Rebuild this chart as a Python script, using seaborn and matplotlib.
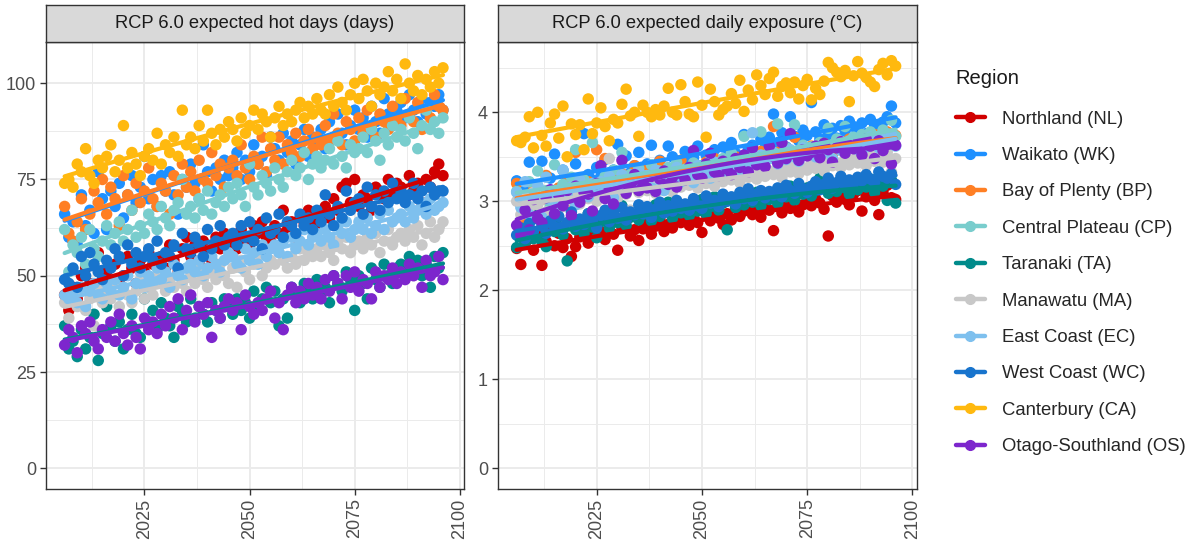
import numpy as np
import pandas as pd
import matplotlib
matplotlib.use("Agg")
import matplotlib.pyplot as plt
from matplotlib.lines import Line2D
import seaborn as sns

years = list(range(2006, 2097))

regions = ["Northland (NL)", "Waikato (WK)", "Bay of Plenty (BP)", "Central Plateau (CP)",
           "Taranaki (TA)", "Manawatu (MA)", "East Coast (EC)", "West Coast (WC)",
           "Canterbury (CA)", "Otago-Southland (OS)"]
colors = ["#D10000", "#1E90FF", "#FF7F24", "#79CDCD", "#008B8B",
          "#C8C8C8", "#7EC0EE", "#1874CD", "#FFB90F", "#7D26CD"]

# expected hot days per year (days), 2006-2096
hot_nl = [45, 41, 47, 44, 50, 52, 48, 46, 56, 49, 51, 47, 53, 49, 50, 55, 52, 48, 54, 51,
          56, 53, 50, 55, 52, 58, 54, 51, 57, 60, 55, 58, 53, 59, 56, 54, 60, 57, 61, 58,
          60, 57, 62, 59, 58, 63, 61, 64, 60, 59, 63, 61, 67, 62, 64, 60, 65, 63, 67, 64,
          66, 63, 68, 65, 70, 67, 73, 74, 69, 75, 68, 71, 70, 67, 73, 72, 70, 75, 71, 74,
          73, 70, 76, 72, 74, 69, 75, 73, 77, 79, 76]
hot_wk = [66, 60, 64, 58, 71, 63, 67, 61, 77, 70, 62, 72, 68, 74, 65, 71, 76, 69, 73, 81,
          70, 75, 68, 76, 72, 77, 71, 66, 75, 73, 79, 74, 70, 84, 77, 72, 78, 75, 80, 76,
          78, 82, 75, 80, 77, 84, 79, 81, 76, 86, 83, 80, 87, 82, 85, 79, 84, 88, 81, 86,
          85, 88, 83, 90, 86, 92, 87, 84, 89, 93, 88, 91, 86, 94, 90, 87, 96, 92, 89, 93,
          95, 91, 97, 93, 90, 96, 92, 95, 94, 97, 93]
hot_bp = [68, 61, 59, 64, 70, 62, 66, 72, 69, 75, 66, 73, 70, 63, 76, 71, 67, 74, 69, 72,
          78, 70, 68, 74, 72, 66, 76, 71, 79, 73, 77, 72, 80, 75, 74, 82, 76, 79, 73, 78,
          80, 76, 84, 78, 75, 81, 79, 86, 77, 83, 80, 86, 79, 84, 82, 87, 81, 85, 88, 83,
          86, 84, 89, 85, 92, 87, 84, 90, 88, 85, 91, 87, 93, 89, 86, 92, 90, 88, 94, 91,
          89, 96, 92, 90, 95, 88, 93, 91, 97, 94, 93]
hot_cp = [62, 51, 58, 56, 60, 53, 62, 57, 55, 59, 63, 58, 61, 64, 59, 62, 67, 60, 63, 61,
          66, 64, 62, 68, 65, 63, 67, 69, 75, 66, 68, 65, 70, 67, 72, 66, 69, 71, 68, 73,
          70, 74, 71, 68, 79, 73, 71, 76, 74, 72, 78, 75, 73, 77, 80, 76, 78, 82, 75, 79,
          81, 78, 80, 83, 79, 85, 81, 78, 84, 82, 83, 86, 82, 88, 85, 80, 87, 84, 89, 86,
          88, 85, 91, 87, 83, 89, 93, 88, 90, 87, 91]
hot_ta = [37, 31, 33, 29, 36, 31, 34, 40, 28, 35, 42, 37, 33, 38, 31, 36, 40, 35, 34, 44,
          38, 41, 36, 43, 39, 37, 34, 42, 40, 38, 44, 39, 42, 40, 38, 43, 41, 39, 44, 42,
          40, 44, 41, 43, 39, 46, 42, 44, 47, 43, 46, 37, 44, 39, 47, 45, 43, 48, 46, 44,
          49, 45, 47, 43, 50, 48, 46, 51, 49, 41, 50, 48, 44, 52, 49, 47, 53, 50, 48, 52,
          53, 51, 55, 52, 54, 50, 53, 47, 55, 52, 56]
hot_ma = [43, 39, 45, 42, 46, 41, 44, 37, 47, 43, 46, 44, 48, 42, 47, 45, 43, 46, 49, 44,
          47, 45, 50, 48, 46, 49, 47, 51, 48, 46, 50, 48, 52, 49, 47, 51, 49, 53, 50, 48,
          52, 47, 54, 51, 49, 53, 55, 50, 52, 54, 53, 56, 54, 52, 55, 53, 57, 54, 56, 55,
          57, 55, 58, 56, 54, 59, 57, 60, 56, 58, 59, 57, 60, 58, 61, 56, 59, 62, 58, 60,
          61, 59, 62, 60, 63, 58, 61, 64, 60, 62, 64]
hot_ec = [45, 44, 46, 43, 47, 42, 46, 48, 45, 44, 48, 46, 49, 45, 47, 50, 44, 48, 51, 47,
          50, 48, 52, 49, 51, 47, 53, 50, 49, 52, 53, 51, 54, 50, 52, 55, 53, 51, 54, 56,
          55, 53, 52, 57, 54, 56, 53, 58, 55, 57, 58, 56, 59, 55, 60, 57, 59, 62, 58, 60,
          61, 59, 62, 60, 58, 63, 61, 64, 60, 62, 64, 62, 65, 61, 63, 66, 62, 67, 64, 65,
          66, 64, 68, 65, 67, 69, 66, 70, 67, 68, 69]
hot_wc = [49, 48, 52, 47, 55, 50, 56, 53, 51, 49, 54, 52, 57, 55, 50, 58, 53, 56, 52, 55,
          57, 54, 59, 53, 56, 55, 58, 52, 61, 57, 56, 60, 58, 55, 62, 57, 59, 63, 58, 60,
          61, 58, 63, 60, 64, 59, 62, 57, 65, 61, 62, 66, 60, 64, 63, 61, 66, 63, 65, 62,
          67, 64, 71, 66, 63, 68, 65, 72, 67, 69, 70, 66, 73, 68, 71, 67, 72, 69, 74, 70,
          72, 69, 71, 74, 70, 72, 68, 73, 71, 72, 72]
hot_ca = [74, 75, 73, 79, 77, 83, 76, 74, 80, 78, 81, 84, 77, 80, 89, 78, 82, 79, 76, 81,
          83, 80, 87, 79, 84, 82, 86, 81, 93, 84, 86, 83, 89, 85, 93, 87, 84, 88, 86, 90,
          88, 85, 91, 87, 89, 93, 88, 92, 90, 86, 91, 94, 89, 92, 90, 93, 95, 91, 94, 92,
          96, 93, 92, 97, 94, 99, 95, 93, 97, 100, 96, 101, 98, 94, 100, 97, 99, 103, 98, 101,
          96, 105, 100, 98, 102, 97, 101, 99, 103, 100, 104]
hot_os = [32, 36, 34, 30, 37, 35, 38, 33, 31, 36, 34, 38, 33, 40, 35, 32, 37, 34, 31, 39,
          36, 38, 35, 40, 37, 42, 39, 44, 36, 41, 45, 38, 42, 40, 43, 34, 41, 39, 42, 44,
          41, 43, 36, 45, 42, 40, 43, 41, 44, 46, 39, 43, 36, 45, 47, 43, 46, 44, 48, 45,
          47, 44, 49, 46, 50, 48, 44, 50, 47, 51, 46, 49, 48, 44, 51, 47, 50, 49, 52, 48,
          51, 49, 53, 50, 52, 47, 54, 50, 51, 55, 49]

# expected daily exposure (deg C), 2006-2096
exp_nl = [2.47, 2.29, 2.53, 2.58, 2.45, 2.62, 2.28, 2.55, 2.70, 2.50, 2.64, 2.48, 2.58, 2.38, 2.49, 2.60, 2.68, 2.53, 2.62, 2.71,
          2.66, 2.57, 2.74, 2.63, 2.45, 2.70, 2.78, 2.61, 2.68, 2.56, 2.69, 2.76, 2.63, 2.72, 2.80, 2.66, 2.74, 2.70, 2.84, 2.76,
          2.79, 2.73, 2.82, 2.76, 2.65, 2.85, 2.78, 2.88, 2.81, 2.74, 2.86, 2.79, 2.92, 2.83, 2.89, 2.95, 2.85, 2.91, 2.82, 2.97,
          2.90, 2.67, 2.94, 2.87, 2.99, 2.92, 3.02, 2.88, 2.96, 3.05, 2.95, 3.03, 2.98, 2.91, 2.61, 3.06, 2.99, 3.09, 3.02, 2.96,
          3.08, 3.12, 2.89, 3.05, 3.15, 3.01, 2.85, 3.10, 3.18, 3.04, 3.02]
exp_wk = [3.23, 3.05, 3.12, 3.44, 3.09, 3.17, 3.45, 3.08, 3.26, 3.53, 3.14, 3.35, 3.22, 3.06, 3.42, 3.19, 3.76, 3.30, 3.24, 3.38,
          3.28, 3.47, 3.21, 3.35, 3.64, 3.26, 3.51, 3.32, 3.40, 3.55, 3.29, 3.42, 3.63, 3.36, 3.46, 3.33, 3.62, 3.50, 3.41, 3.38,
          3.56, 3.44, 3.49, 3.62, 3.40, 3.52, 3.47, 3.58, 3.45, 3.61, 3.50, 3.66, 3.54, 3.49, 3.75, 3.58, 3.63, 3.52, 3.70, 3.60,
          3.72, 3.98, 3.66, 3.77, 3.61, 3.95, 3.73, 3.68, 3.80, 3.74, 4.11, 3.78, 3.70, 3.86, 3.75, 3.82, 3.71, 3.85, 3.79, 3.90,
          3.84, 3.81, 3.88, 3.76, 3.92, 3.86, 3.80, 3.89, 3.95, 4.07, 3.88]
exp_bp = [3.20, 2.76, 3.05, 2.98, 3.12, 2.87, 3.02, 3.29, 3.10, 2.95, 3.15, 3.05, 3.26, 3.00, 3.55, 3.18, 3.08, 3.22, 3.13, 3.58,
          3.20, 3.48, 3.15, 3.25, 3.10, 3.31, 3.22, 3.18, 3.40, 3.28, 3.24, 3.36, 3.19, 3.33, 3.45, 3.27, 3.30, 3.22, 3.38, 3.46,
          3.31, 3.28, 3.42, 3.36, 3.25, 3.44, 3.39, 3.48, 3.33, 3.41, 3.45, 3.38, 3.50, 3.35, 3.47, 3.42, 3.52, 3.40, 3.56, 3.46,
          3.49, 3.84, 3.55, 3.44, 3.60, 3.51, 3.72, 3.48, 3.58, 3.54, 3.62, 3.56, 3.50, 3.65, 3.59, 3.53, 3.68, 3.61, 3.57, 3.70,
          3.64, 3.58, 3.73, 3.66, 3.61, 3.75, 3.69, 3.63, 3.78, 3.71, 3.74]
exp_cp = [3.11, 2.98, 3.06, 3.22, 2.90, 3.34, 3.04, 3.12, 2.95, 3.41, 3.08, 3.19, 3.02, 3.27, 3.58, 3.14, 3.24, 3.10, 3.66, 3.20,
          3.16, 3.28, 3.12, 3.35, 3.21, 3.55, 3.18, 3.30, 3.24, 3.37, 3.29, 3.20, 3.41, 3.26, 3.34, 3.23, 3.38, 3.31, 3.44, 3.28,
          3.36, 3.30, 3.43, 3.34, 3.40, 3.32, 3.46, 3.39, 3.35, 3.48, 3.42, 3.54, 3.40, 3.47, 3.73, 3.45, 3.51, 3.44, 3.78, 3.50,
          3.55, 3.48, 3.87, 3.53, 3.60, 3.52, 3.86, 3.57, 3.63, 3.55, 3.61, 3.58, 3.66, 3.59, 3.82, 3.63, 3.70, 3.65, 3.84, 3.68,
          3.72, 3.66, 3.75, 3.70, 3.78, 3.73, 3.69, 3.80, 3.76, 3.91, 3.73]
exp_ta = [2.48, 2.60, 2.53, 2.70, 2.58, 2.85, 2.55, 2.49, 2.78, 2.66, 2.72, 2.62, 2.33, 2.80, 2.68, 2.75, 2.64, 2.86, 2.71, 2.59,
          2.77, 2.84, 2.70, 2.90, 2.76, 2.95, 2.73, 2.82, 2.88, 2.79, 2.85, 2.92, 2.78, 2.96, 2.83, 2.89, 2.99, 2.81, 2.93, 2.87,
          2.91, 2.84, 2.97, 2.89, 3.02, 2.86, 2.94, 3.05, 2.90, 2.98, 2.68, 3.01, 2.93, 3.07, 2.96, 3.04, 2.99, 3.10, 2.95, 3.06,
          3.02, 3.09, 2.98, 3.13, 3.05, 3.17, 3.01, 3.11, 3.08, 3.15, 3.06, 3.12, 3.26, 3.14, 3.09, 3.18, 3.11, 3.21, 3.15, 3.08,
          3.19, 3.13, 3.22, 3.16, 3.25, 3.10, 3.20, 3.17, 3.01, 3.24, 2.98]
exp_ma = [3.00, 2.85, 3.04, 2.92, 3.10, 2.96, 3.02, 2.88, 3.08, 2.99, 3.05, 2.94, 3.12, 3.01, 3.07, 2.97, 3.14, 3.03, 3.09, 3.00,
          3.11, 3.06, 3.48, 3.13, 3.04, 3.18, 3.08, 2.90, 3.15, 3.10, 3.17, 3.12, 3.21, 3.09, 3.19, 3.14, 3.23, 3.11, 3.20, 3.16,
          3.22, 3.18, 3.26, 3.15, 3.24, 3.20, 3.28, 3.17, 3.25, 3.22, 3.29, 3.24, 3.31, 3.21, 3.33, 3.27, 3.30, 3.25, 3.36, 3.28,
          3.34, 3.30, 3.37, 3.27, 3.39, 3.33, 3.41, 3.31, 3.38, 3.35, 3.42, 3.37, 3.44, 3.34, 3.46, 3.40, 3.43, 3.38, 3.48, 3.41,
          3.47, 3.43, 3.50, 3.40, 3.52, 3.45, 3.49, 3.44, 3.55, 3.33, 3.48]
exp_ec = [3.10, 2.93, 3.22, 2.85, 3.05, 3.18, 2.82, 3.27, 3.02, 3.12, 2.97, 3.35, 3.08, 3.16, 2.96, 3.24, 3.12, 3.05, 3.20, 3.14,
          3.22, 3.10, 3.28, 3.04, 3.19, 3.30, 3.13, 3.25, 3.18, 3.33, 3.20, 3.29, 3.15, 3.35, 3.24, 3.12, 3.31, 3.27, 3.38, 3.22,
          3.34, 3.28, 3.21, 3.40, 3.32, 3.37, 3.26, 3.44, 3.35, 3.30, 3.41, 3.36, 3.45, 3.33, 3.49, 3.39, 3.77, 3.43, 3.52, 3.46,
          3.48, 3.55, 3.42, 3.51, 3.47, 3.58, 3.50, 3.45, 3.60, 3.53, 3.56, 3.50, 3.62, 3.55, 3.59, 3.48, 3.64, 3.57, 3.61, 3.66,
          3.63, 3.58, 3.68, 3.61, 3.72, 3.65, 3.60, 3.70, 3.67, 3.74, 3.62]
exp_wc = [2.62, 2.70, 2.58, 2.75, 2.66, 2.80, 2.72, 2.64, 2.78, 2.71, 2.83, 2.69, 2.76, 2.88, 2.72, 2.80, 2.74, 2.86, 2.78, 2.70,
          2.84, 2.90, 2.77, 2.87, 2.81, 2.93, 2.79, 2.88, 2.85, 2.96, 2.86, 2.94, 2.82, 2.91, 2.99, 2.87, 2.95, 2.89, 3.01, 2.92,
          2.97, 2.90, 3.03, 2.95, 2.92, 3.06, 2.98, 3.01, 2.94, 3.08, 3.00, 3.05, 2.97, 3.10, 3.03, 3.14, 3.01, 3.08, 3.12, 3.04,
          3.11, 3.07, 3.15, 3.05, 3.18, 3.12, 3.09, 3.20, 3.14, 3.10, 3.17, 3.22, 3.13, 3.19, 3.26, 3.15, 3.21, 3.28, 3.18, 3.24,
          3.20, 3.27, 3.23, 3.30, 3.25, 3.21, 3.33, 3.28, 3.26, 3.31, 3.19]
exp_ca = [3.68, 3.66, 3.72, 3.95, 3.60, 4.00, 3.74, 3.62, 3.88, 3.98, 3.71, 4.07, 3.50, 3.87, 3.75, 3.86, 3.58, 4.15, 3.76, 3.88,
          4.05, 3.84, 3.68, 3.92, 3.88, 4.09, 4.26, 3.96, 4.00, 3.73, 4.08, 4.00, 3.95, 4.03, 3.97, 4.07, 4.27, 4.00, 3.97, 4.31,
          4.12, 3.98, 3.95, 4.34, 4.08, 3.72, 4.26, 4.12, 3.97, 4.03, 4.07, 4.21, 4.10, 4.36, 4.01, 4.25, 4.14, 4.42, 4.30, 4.20,
          4.38, 4.45, 4.18, 4.29, 4.33, 4.22, 4.34, 4.15, 4.30, 4.37, 4.14, 4.27, 4.20, 4.35, 4.56, 4.50, 4.45, 4.40, 4.47, 4.12,
          4.41, 4.57, 4.44, 4.39, 4.34, 4.29, 4.48, 4.55, 4.42, 4.58, 4.52]
exp_os = [2.73, 2.62, 2.90, 2.68, 3.02, 2.81, 2.76, 3.04, 3.13, 2.86, 3.07, 2.95, 3.12, 2.84, 3.17, 2.99, 3.10, 3.08, 2.89, 3.20,
          3.40, 3.03, 3.14, 2.97, 3.22, 3.46, 3.09, 3.18, 3.30, 3.12, 3.22, 3.15, 3.28, 3.11, 3.25, 3.34, 3.19, 3.27, 3.16, 3.31,
          3.24, 3.38, 3.57, 3.30, 3.26, 3.42, 3.54, 3.33, 3.29, 3.45, 3.36, 3.30, 3.48, 3.38, 3.52, 3.33, 3.60, 3.41, 3.46, 3.39,
          3.62, 3.50, 3.43, 3.66, 3.48, 3.76, 3.53, 3.46, 3.58, 3.51, 3.55, 3.62, 3.49, 3.65, 3.58, 3.44, 3.60, 3.67, 3.54, 3.63,
          3.59, 3.66, 3.52, 3.70, 3.62, 3.48, 3.68, 3.57, 3.64, 3.42, 3.63]

hot_series = [hot_nl, hot_wk, hot_bp, hot_cp, hot_ta, hot_ma, hot_ec, hot_wc, hot_ca, hot_os]
exp_series = [exp_nl, exp_wk, exp_bp, exp_cp, exp_ta, exp_ma, exp_ec, exp_wc, exp_ca, exp_os]
palette = dict(zip(regions, colors))


def tidy(series):
    rows = []
    for reg, vals in zip(regions, series):
        rows.append(pd.DataFrame({"year": years, "value": vals, "region": reg}))
    return pd.concat(rows, ignore_index=True)


hot = tidy(hot_series)
expo = tidy(exp_series)

sns.set_theme(style="white")
plt.rcParams["font.family"] = ["Liberation Sans", "DejaVu Sans"]

fig = plt.figure(figsize=(11.91, 5.45), dpi=100)

W, H = 1191, 545
panels = [
    (hot, "RCP 6.0 expected hot days (days)", 45.7, 464.0, (-5.3, 110.7),
     [0, 25, 50, 75, 100], [12.5, 37.5, 62.5, 87.5]),
    (expo, "RCP 6.0 expected daily exposure (°C)", 497.7, 916.7, (-0.23, 4.79),
     [0, 1, 2, 3, 4], [0.5, 1.5, 2.5, 3.5, 4.5]),
]

top_px, bot_px, strip_top = 42.0, 488.7, 5.0

for df, title, x0, x1, ylim, yt, ymin in panels:
    ax = fig.add_axes([x0 / W, 1 - bot_px / H, (x1 - x0) / W, (bot_px - top_px) / H])
    sns.scatterplot(data=df, x="year", y="value", hue="region", hue_order=regions,
                    palette=palette, s=68, edgecolor="none", linewidth=0,
                    legend=False, ax=ax, zorder=3)
    for reg in regions:
        sub = df[df["region"] == reg]
        sns.regplot(data=sub, x="year", y="value", scatter=False, order=2, ci=None,
                    color=palette[reg], line_kws={"lw": 3.0, "zorder": 4}, ax=ax)
    ax.set_xlim(2001.5, 2101.0)
    ax.set_ylim(*ylim)
    ax.set_xticks([2025, 2050, 2075, 2100])
    ax.set_xticks([2012.5, 2037.5, 2062.5, 2087.5], minor=True)
    ax.set_yticks(yt)
    ax.set_yticks(ymin, minor=True)
    ax.grid(which="major", color="#EBEBEB", lw=1.4)
    ax.grid(which="minor", color="#EBEBEB", lw=0.7)
    ax.set_axisbelow(True)
    ax.set_xlabel("")
    ax.set_ylabel("")
    ax.tick_params(axis="x", which="major", rotation=90, labelsize=13, colors="#333333",
                   labelcolor="#4D4D4D", length=4, width=1, pad=3, bottom=True)
    ax.tick_params(axis="y", which="major", labelsize=13, colors="#333333",
                   labelcolor="#4D4D4D", length=4, width=1, pad=3, left=True)
    ax.tick_params(which="minor", length=0)
    for sp in ax.spines.values():
        sp.set_color("#333333")
        sp.set_linewidth(1.0)
    sax = fig.add_axes([x0 / W, 1 - top_px / H, (x1 - x0) / W, (top_px - strip_top) / H])
    sax.set_facecolor("#D9D9D9")
    sax.set_xticks([])
    sax.set_yticks([])
    for sp in sax.spines.values():
        sp.set_color("#333333")
        sp.set_linewidth(1.0)
    sax.text(0.5, 0.5, title, ha="center", va="center", fontsize=13.2, color="#1A1A1A",
             transform=sax.transAxes)

fig.text(955 / W, 1 - 78 / H, "Region", ha="left", va="center", fontsize=14.5, color="#1A1A1A")
handles = [Line2D([0], [0], color=c, lw=3.2, marker="o", markersize=7) for c in colors]
fig.legend(handles, regions, loc="upper left", bbox_to_anchor=(939 / W, 1 - 94 / H),
           frameon=False, fontsize=13.3, handlelength=1.6, handletextpad=0.9,
           labelspacing=1.05, alignment="left")

fig.savefig("out.png", dpi=100)
